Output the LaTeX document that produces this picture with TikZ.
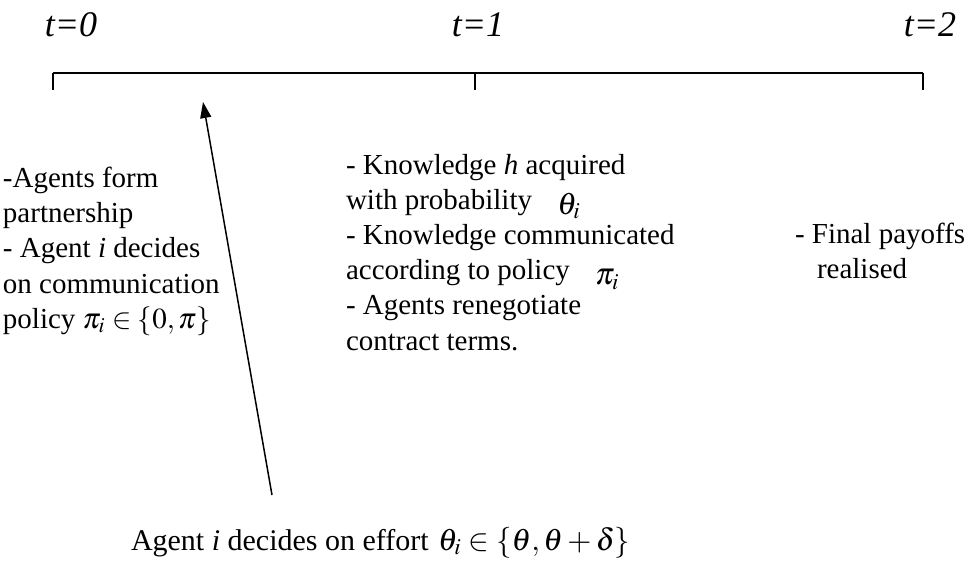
\documentclass[tikz,border=0pt]{standalone}
\usepackage{mathptmx}
\usepackage[no-math]{fontspec}
\setmainfont{Liberation Serif}
\usetikzlibrary{arrows.meta}

\newcommand{\bigmath}[2][-2.5pt]{\raisebox{#1}{\fontsize{15.5}{17.6}\selectfont$#2$}}

\begin{document}
\begin{tikzpicture}[
  x=0.5pt, y=-0.5pt,
  every node/.style={inner sep=0pt, outer sep=0pt},
  timelabel/.style={font=\fontsize{18}{20}\selectfont\itshape, anchor=base},
  stagetext/.style={align=left, anchor=north west, font=\fontsize{14.5}{17.6}\selectfont},
  axis/.style={line width=1pt},
  tick/.style={line width=0.7pt},
  >={Triangle[length=8pt,width=5.5pt]}
]
\useasboundingbox (0,0) rectangle (969,567);

% time points
\coordinate (t0) at (53,73);
\coordinate (t1) at (475,73);
\coordinate (t2) at (923,73);

\node[timelabel] (lab0) at (71,37)  {t=0};
\node[timelabel] (lab1) at (478,37) {t=1};
\node[timelabel] (lab2) at (930,37) {t=2};

\draw[axis] (t0) -- (t2);
\draw[tick] (t0) -- ++(0,17);
\draw[tick] (t1) -- ++(0,17);
\draw[tick] (t2) -- ++(0,17);

% what happens at each date
\node[stagetext] (stage0) at (3,167) {-Agents form\\ partnership\\ - Agent \textit{i} decides\\ on communication\\ policy $\pi_i \in \{0,\pi\}$};
\node[stagetext] (stage1) at (346,154) {- Knowledge \textit{h} acquired\\ with probability \hspace{9pt}\bigmath{\theta_i}\\ - Knowledge communicated\\ according to policy \hspace{9pt}\bigmath{\pi_i}\\ - Agents renegotiate\\ contract terms.};
\node[stagetext] (stage2) at (795,223) {- Final payoffs\\ \hspace*{11pt}realised};

% effort choice
\node[stagetext, anchor=base west, font=\fontsize{15}{17.6}\selectfont] (effort) at (131,550) {Agent \textit{i} decides on effort~\hspace{1pt}\bigmath[0pt]{\theta_i \in \{\theta,\theta+\delta\}}};
\coordinate (efoot) at (272,495);
\coordinate (etip) at (203,102);
\draw[->, line width=0.75pt] (efoot) -- (etip);
\end{tikzpicture}
\end{document}
